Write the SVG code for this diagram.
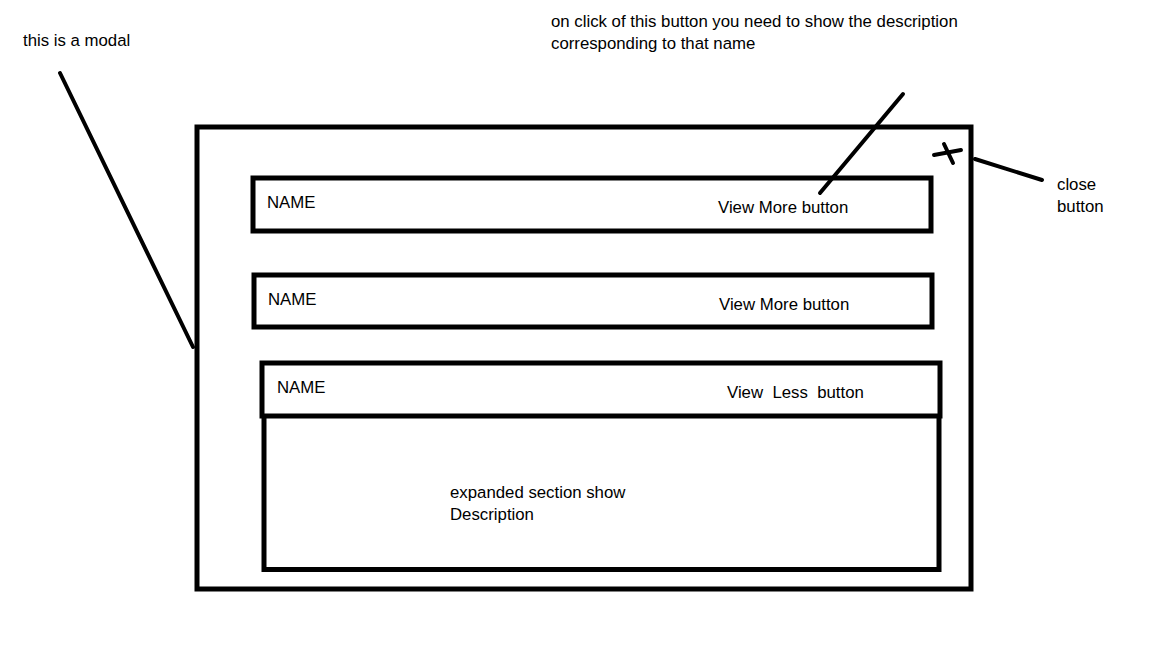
<svg xmlns="http://www.w3.org/2000/svg" width="1152" height="648" viewBox="0 0 1152 648">
<style>
.box{fill:none;stroke:#000;stroke-width:5}
.ln{fill:none;stroke:#000;stroke-width:4;stroke-linecap:round}
text{font-family:"Liberation Sans",Arial,sans-serif;font-size:16.8px;fill:#000;white-space:pre}
</style>
<rect width="1152" height="648" fill="#fff"/>
<g id="modal">
<rect class="box" x="197" y="127" width="774" height="462"/>
</g>
<g id="row1">
<rect class="box" x="253" y="178" width="678" height="53"/>
<text x="267" y="208">NAME</text>
<text x="718" y="213">View More button</text>
</g>
<g id="row2">
<rect class="box" x="254" y="275" width="678" height="52"/>
<text x="268" y="305">NAME</text>
<text x="719" y="310">View More button</text>
</g>
<g id="row3">
<rect class="box" x="262" y="363" width="678" height="53"/>
<text x="277" y="393">NAME</text>
<text x="727" y="398">View  Less  button</text>
</g>
<g id="expanded">
<polyline class="box" points="264,416 264,569.5 939,569.5 939,416"/>
<text x="450" y="498">expanded section show</text>
<text x="450" y="520">Description</text>
</g>
<g id="close-x">
<line class="ln" x1="934" y1="155" x2="961" y2="150"/>
<line class="ln" x1="944" y1="144" x2="953" y2="163"/>
</g>
<g id="connectors">
<line class="ln" x1="60" y1="73" x2="193" y2="347"/>
<line class="ln" x1="903" y1="94" x2="820" y2="193"/>
<line class="ln" x1="975" y1="159" x2="1042" y2="180"/>
</g>
<g id="labels">
<text x="23" y="46">this is a modal</text>
<text x="551" y="27">on click of this button you need to show the description</text>
<text x="551" y="49">corresponding to that name</text>
<text x="1057" y="190">close</text>
<text x="1057" y="212">button</text>
</g>
</svg>
